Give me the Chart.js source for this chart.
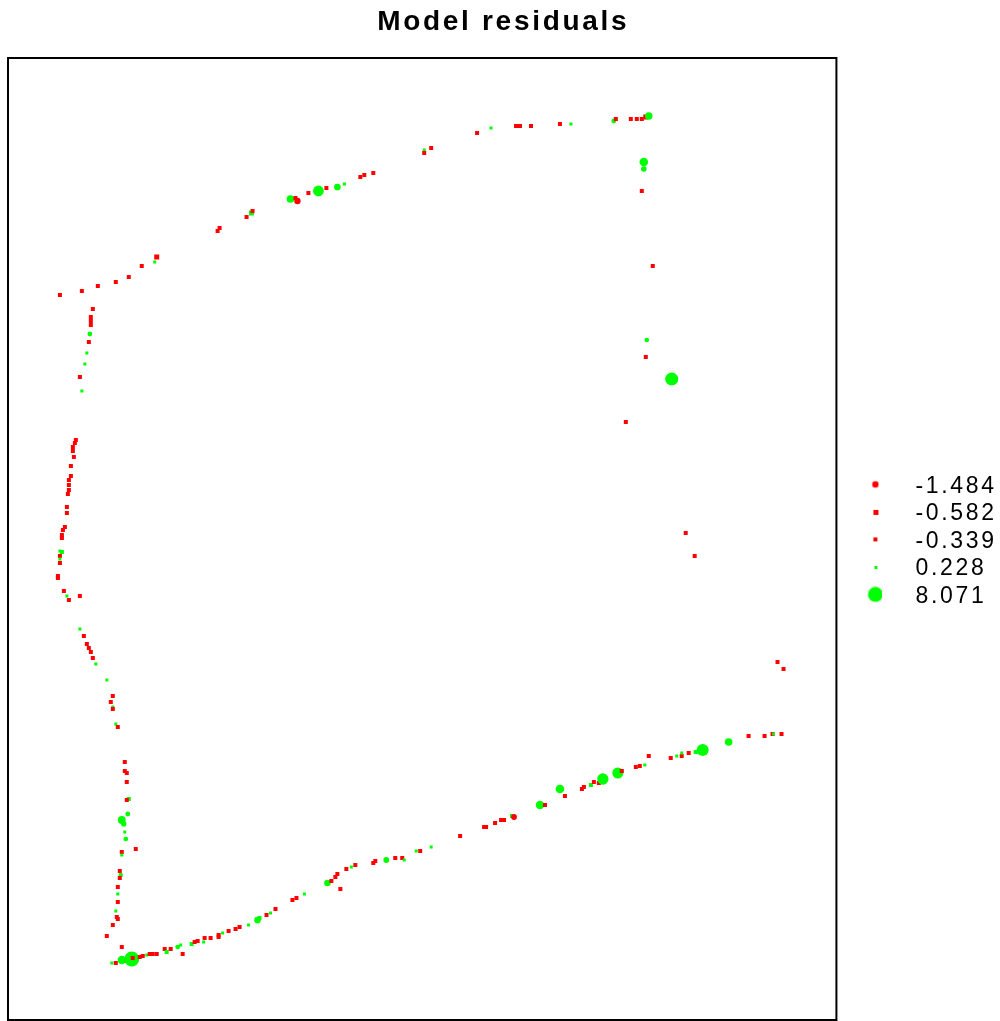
<!DOCTYPE html>
<html><head><meta charset="utf-8">
<script src="https://cdn.jsdelivr.net/npm/chart.js@4.4.1/dist/chart.umd.min.js"></script>
<style>html,body{margin:0;padding:0;background:#fff;}canvas{display:block;}</style>
</head><body>
<canvas id="c" width="1000" height="1021"></canvas>
<script>
const titleText = 'Model residuals';
const legendValues = [-1.484, -0.582, -0.339, 0.228, 8.071];
const legendLabels = ['-1.484', '-0.582', '-0.339', '0.228', '8.071'];

// point locations (map units) and model residuals
const eastings = [
  52, 74, 90, 108, 121, 134, 149, 147, 210, 212, 239, 244, 245, 283, 288, 290, 301, 311, 319, 330,
  337, 353, 357, 366, 417, 417, 424, 470, 484, 509, 513, 524, 553, 564, 607, 609, 624, 630, 635, 639,
  642, 637, 637, 635, 646, 640, 639, 665, 619, 679, 688, 771, 777, 85, 83, 83, 83, 82, 81, 79,
  77, 72, 74, 68, 67, 65, 65, 66, 63, 63, 61, 61, 61, 60, 59, 59, 57, 55, 54, 54,
  52, 54, 52, 52, 52, 50, 50, 56, 59, 61, 72, 72, 76, 79, 81, 83, 85, 88, 99, 105,
  103, 105, 105, 108, 110, 117, 117, 119, 119, 121, 119, 120, 114, 116, 117, 118, 128, 114, 114, 112,
  113, 112, 110, 110, 110, 108, 109, 110, 105, 99, 114, 104, 108, 114, 119, 124, 125, 132, 135, 139,
  142, 145, 149, 157, 159, 163, 175, 170, 173, 184, 187, 190, 196, 197, 203, 211, 211, 215, 221, 228,
  232, 241, 250, 252, 259, 263, 268, 285, 289, 297, 320, 324, 328, 330, 333, 339, 344, 348, 366, 368,
  379, 388, 395, 397, 409, 413, 424, 453, 477, 479, 488, 494, 497, 505, 507, 533, 538, 553, 558, 575,
  577, 584, 587, 592, 596, 611, 615, 629, 633, 638, 642, 664, 670, 675, 675, 682, 689, 696, 722, 742,
  758, 766, 767, 775
];
const northings = [
  725, 729, 734, 738, 743, 754, 763, 758, 789, 792, 803, 807, 809, 821, 822, 819, 827, 829, 832, 833,
  836, 843, 845, 847, 870, 867, 872, 887, 892, 894, 894, 894, 896, 896, 899, 901, 901, 901, 901, 903,
  904, 858, 851, 829, 754, 680, 663, 641, 598, 487, 464, 358, 351, 711, 703, 699, 695, 686, 678, 667,
  656, 643, 629, 580, 577, 573, 569, 563, 554, 544, 540, 535, 530, 526, 513, 507, 493, 490, 485, 482,
  469, 468, 464, 461, 457, 444, 442, 429, 424, 420, 424, 391, 384, 376, 372, 368, 362, 356, 340, 324,
  318, 313, 311, 296, 293, 258, 249, 247, 238, 221, 220, 206, 200, 196, 188, 181, 171, 168, 165, 149,
  145, 142, 133, 126, 118, 109, 103, 101, 95, 84, 73, 57, 57, 60, 59, 61, 62, 63, 64, 65,
  66, 66, 66, 71, 68, 71, 66, 73, 75, 76, 78, 79, 78, 82, 82, 83, 85, 87, 89, 91,
  93, 95, 100, 102, 105, 107, 111, 120, 122, 126, 137, 139, 143, 146, 131, 151, 153, 155, 157, 159,
  160, 162, 162, 160, 169, 169, 173, 184, 193, 193, 197, 200, 200, 204, 203, 215, 215, 231, 224, 231,
  233, 235, 238, 237, 241, 247, 249, 253, 254, 255, 264, 262, 264, 264, 267, 267, 268, 270, 278, 284,
  284, 286, 286, 286
];
const residuals = [
  -0.52, -0.48, -0.55, -0.50, -0.46, -0.53, -0.58, 0.24, -0.51, -0.44, -0.56, 0.62, -0.34, 2.1, -0.49, -1.484, -0.50, 4.2, -0.47, 1.6,
  0.31, -0.55, -0.42, -0.50, 0.26, -0.53, -0.49, -0.51, 0.29, -0.54, -0.47, -0.50, -0.52, 0.30, 0.85, -0.339, -0.52, -0.48, -0.55, -0.582,
  2.0, 2.6, 1.1, -0.50, -0.47, 0.78, -0.53, 6.1, -0.50, -0.46, -0.52, -0.49, -0.54, -0.51, -0.56, -0.50, -0.48, 0.82, -0.52, 0.27,
  0.25, -0.50, 0.23, -0.55, -0.49, -0.52, -0.47, -0.50, -0.53, -0.48, -0.51, -0.54, -0.49, -0.52, -0.50, -0.46, -0.53, -0.50, -0.48, -0.55,
  0.31, 0.42, -0.50, 0.26, -0.52, -0.49, -0.51, -0.50, 0.28, -0.53, -0.47, 0.25, -0.50, -0.54, -0.48, -0.52, -0.49, 0.27, 0.24, -0.51,
  -0.50, 0.26, -0.53, 0.228, -0.48, -0.52, -0.50, -0.47, -0.54, 0.33, -0.50, 0.85, 2.2, 1.0, 0.27, 0.80, -0.52, -0.49, 0.25, -0.51,
  0.72, -0.50, -0.53, 0.26, -0.48, 0.28, -0.52, -0.50, -0.49, -0.54, -0.51, 0.25, -0.50, 2.5, -0.52, 8.071, -0.48, -0.51, -0.53, 0.30,
  -0.49, -0.52, -0.50, -0.47, 0.38, -0.53, -0.50, 0.80, 0.32, 0.52, -0.49, -0.51, 0.30, -0.52, -0.48, -0.50, -0.42, 0.29, -0.53, -0.49,
  -0.51, 0.26, 1.6, 0.50, -0.52, 0.31, -0.48, -0.50, -0.53, 0.28, 1.5, -0.51, -0.49, -0.52, -0.50, -0.47, 0.30, -0.53, -0.50, -0.48,
  1.2, -0.52, -0.49, 0.29, 0.31, -0.50, 0.27, -0.51, -0.53, -0.48, -0.50, -0.52, -0.49, 0.48, -1.2, 2.6, -0.50, 2.7, -0.54, -0.49,
  -0.51, 0.40, -0.50, -0.52, 4.6, 4.4, -0.48, -0.53, -0.50, 0.32, -0.51, -0.49, 0.30, -0.52, 0.28, -0.50, 0.41, 5.2, 2.1, -0.53,
  -0.50, -0.49, 0.30, -0.52
];

const NEG_COLOR = '#FF0000';
const POS_COLOR = '#00FF00';
const MAX_R = 7.5;
const maxAbs = Math.max(...residuals.map(Math.abs));
function radiusFor(v) { return MAX_R * Math.sqrt(Math.abs(v) / maxAbs); }
function colorFor(v) { return v < 0 ? NEG_COLOR : POS_COLOR; }
// tiny symbols rasterise as squares in the reference
function isSmall(v) { return radiusFor(v) < 2.2; }
function squareSide(v) { return Math.max(3, Math.ceil(2 * radiusFor(v))); }
function styleFor(v) { return isSmall(v) ? 'rect' : 'circle'; }
function chartRadius(v) { return isSmall(v) ? squareSide(v) / Math.SQRT2 : radiusFor(v); }

const LS = 2.7;          // letter spacing of the text
const LEG_FONT = 23;
const LEG_PAD = 4.5;
const BOX_W = 63;

function symbolCanvas(v) {
  const c = document.createElement('canvas');
  c.width = 20; c.height = 20;
  const g = c.getContext('2d');
  g.fillStyle = colorFor(v);
  if (isSmall(v)) {
    const s = squareSide(v);
    g.fillRect(Math.round(13 - s / 2), Math.round(8 - s / 2), s, s);
  } else {
    g.beginPath();
    g.arc(13, 8, radiusFor(v), 0, Math.PI * 2);
    g.fill();
  }
  return c;
}

const mctx = document.createElement('canvas').getContext('2d');
mctx.font = LEG_FONT + 'px "Liberation Sans", Arial, sans-serif';
if ('letterSpacing' in mctx) mctx.letterSpacing = LS + 'px';
const maxTextW = Math.max(...legendLabels.map(t => mctx.measureText(t).width));
const legendW = LEG_PAD + BOX_W + LEG_FONT / 2 + maxTextW;
const padRight = Math.max(0, 162 - legendW);

const spacingPlugin = {
  id: 'spacing',
  beforeUpdate(chart) { if ('letterSpacing' in chart.ctx) chart.ctx.letterSpacing = LS + 'px'; },
  beforeDraw(chart) { if ('letterSpacing' in chart.ctx) chart.ctx.letterSpacing = LS + 'px'; }
};
const framePlugin = {
  id: 'frame',
  afterDatasetsDraw(chart) {
    const a = chart.chartArea, ctx = chart.ctx;
    ctx.save();
    ctx.strokeStyle = '#000';
    ctx.lineWidth = 2;
    ctx.strokeRect(a.left, a.top, a.right - a.left, a.bottom - a.top);
    ctx.restore();
  }
};

new Chart(document.getElementById('c'), {
  type: 'scatter',
  data: {
    datasets: [{
      label: 'residuals',
      data: eastings.map((x, i) => ({ x: x, y: northings[i] })),
      pointStyle: ctx => styleFor(residuals[ctx.dataIndex]),
      pointRadius: ctx => chartRadius(residuals[ctx.dataIndex]),
      pointBackgroundColor: ctx => colorFor(residuals[ctx.dataIndex]),
      pointBorderWidth: 0,
      borderWidth: 0
    }]
  },
  options: {
    responsive: false,
    animation: false,
    events: [],
    layout: { autoPadding: false, padding: { left: 8, right: padRight, top: 0, bottom: 1 } },
    scales: {
      x: { type: 'linear', min: 0, max: 830, display: false },
      y: { type: 'linear', min: 0, max: 962, display: false }
    },
    plugins: {
      title: {
        display: true,
        text: titleText,
        color: '#000',
        font: { family: '"Liberation Sans", Arial, sans-serif', size: 28, weight: 'bold', lineHeight: 1.2 },
        padding: { top: 5.2, bottom: 19.2 }
      },
      tooltip: { enabled: false },
      legend: {
        display: true,
        position: 'right',
        fullSize: false,
        maxWidth: 162,
        title: { display: true, text: ' ', font: { size: 4 }, padding: 0 },
        labels: {
          usePointStyle: true,
          pointStyleWidth: BOX_W,
          padding: LEG_PAD,
          color: '#000',
          font: { family: '"Liberation Sans", Arial, sans-serif', size: LEG_FONT },
          generateLabels: () => legendValues.map((v, i) => ({
            text: legendLabels[i],
            pointStyle: symbolCanvas(v),
            fillStyle: colorFor(v),
            strokeStyle: colorFor(v),
            fontColor: '#000',
            lineWidth: 0,
            hidden: false,
            datasetIndex: 0
          }))
        },
        onClick: () => {}
      }
    }
  },
  plugins: [spacingPlugin, framePlugin]
});
</script>
</body></html>
